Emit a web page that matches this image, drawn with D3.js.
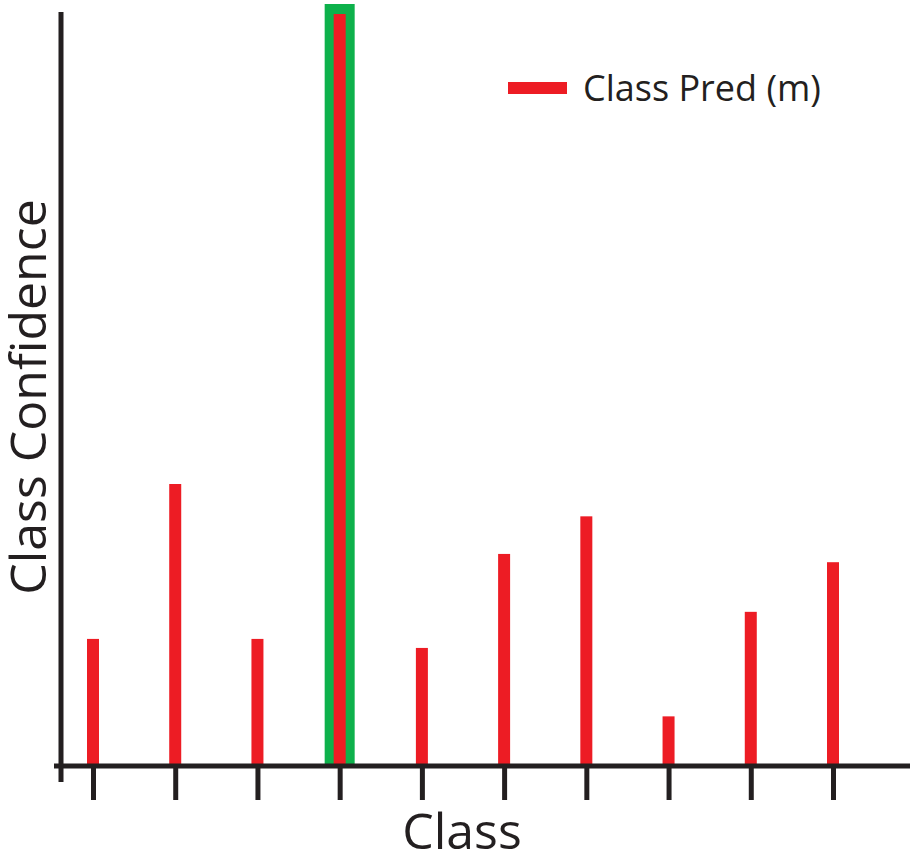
<!DOCTYPE html>
<html>
<head>
<meta charset="utf-8">
<script src="https://cdn.jsdelivr.net/npm/d3@7"></script>
<style>
  body { margin: 0; background: #fff; }
  text { font-family: 'Open Sans', sans-serif; fill: #231f20; }
</style>
</head>
<body>
<div id="chart"></div>
<script>
// data
const classes = ['c1', 'c2', 'c3', 'c4', 'c5', 'c6', 'c7', 'c8', 'c9', 'c10'];
const confidence = [0.169, 0.375, 0.169, 1.0, 0.157, 0.282, 0.332, 0.066, 0.205, 0.271];
const trueClass = 'c4';
const legendLabel = 'Class Pred (m)';

const width = 918;
const height = 859;
const axisColor = '#231f20';
const red = '#ed1c24';
const green = '#0db14b';

const svg = d3
  .select('#chart')
  .append('svg')
  .attr('width', width)
  .attr('height', height);

const x = d3.scalePoint().domain(classes).range([93, 833]);
const y = d3.scaleLinear().domain([0, 1]).range([766, 14]);

const data = classes.map((c, i) => ({ c: c, v: confidence[i] }));

// green highlight behind the true class
svg
  .append('rect')
  .attr('x', x(trueClass) - 15)
  .attr('y', y(1) - 10)
  .attr('width', 30)
  .attr('height', y(0) - y(1) + 10)
  .style('fill', green);

// bars
svg
  .selectAll('.bar')
  .data(data)
  .enter()
  .append('rect')
  .attr('class', 'bar')
  .attr('x', d => x(d.c) - 6)
  .attr('y', d => y(d.v))
  .attr('width', 12)
  .attr('height', d => y(0) - y(d.v))
  .style('fill', red);

// x axis with long ticks below
const xAxis = d3.axisBottom(x).tickSize(34).tickFormat('');
const gx = svg.append('g').attr('transform', 'translate(0,' + y(0) + ')').call(xAxis);
gx.select('.domain').remove();
gx.selectAll('.tick line').attr('stroke', axisColor).attr('stroke-width', 5);

svg
  .append('line')
  .attr('x1', 54)
  .attr('x2', 910)
  .attr('y1', y(0))
  .attr('y2', y(0))
  .attr('stroke', axisColor)
  .attr('stroke-width', 5);

// y axis
svg
  .append('line')
  .attr('x1', 61)
  .attr('x2', 61)
  .attr('y1', 12)
  .attr('y2', 782)
  .attr('stroke', axisColor)
  .attr('stroke-width', 5);

// axis labels
svg
  .append('text')
  .text('Class')
  .attr('x', 462)
  .attr('y', 849)
  .attr('text-anchor', 'middle')
  .style('font-size', '50px');

svg
  .append('text')
  .text('Class Confidence')
  .attr('transform', 'translate(46,397) rotate(-90)')
  .attr('text-anchor', 'middle')
  .style('font-size', '50px');

// legend
svg
  .append('rect')
  .attr('x', 508)
  .attr('y', 82)
  .attr('width', 59)
  .attr('height', 12)
  .style('fill', red);

svg
  .append('text')
  .text(legendLabel)
  .attr('x', 583)
  .attr('y', 101)
  .attr('text-anchor', 'start')
  .style('font-size', '36px');
</script>
</body>
</html>
